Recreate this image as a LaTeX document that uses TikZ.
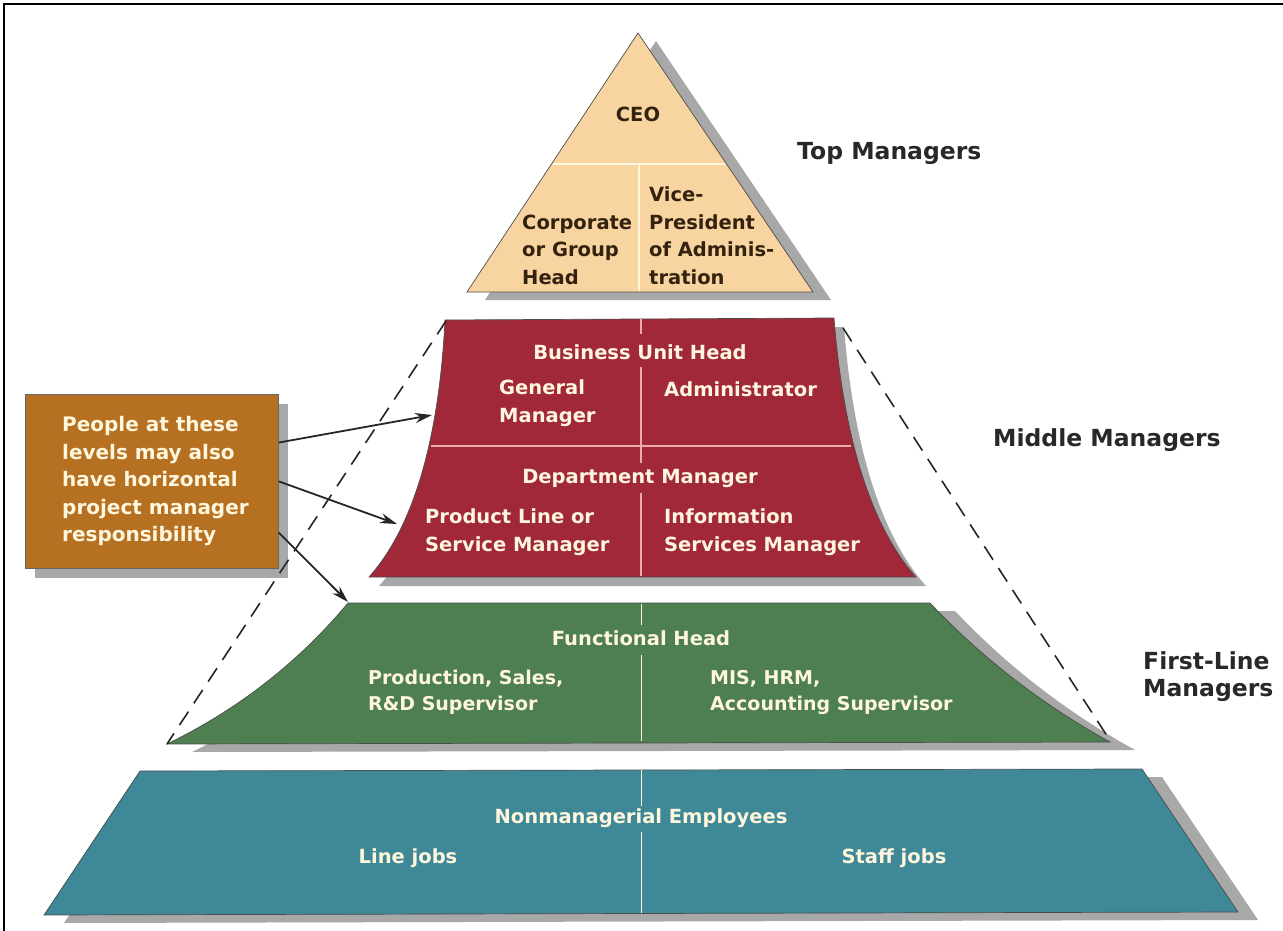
\documentclass[tikz,border=0pt]{standalone}
\usepackage{fontspec}
\setmainfont{DejaVu Sans}
\usepackage{tikz}
\usetikzlibrary{arrows.meta}

\definecolor{peach}{RGB}{248,213,160}
\definecolor{wine}{RGB}{160,40,56}
\definecolor{leaf}{RGB}{78,127,80}
\definecolor{sea}{RGB}{62,136,152}
\definecolor{ochre}{RGB}{181,112,33}
\definecolor{shadowgray}{RGB}{168,168,168}
\definecolor{cream}{RGB}{255,246,222}
\definecolor{pinkline}{RGB}{236,170,170}
\definecolor{inkbrown}{RGB}{50,34,14}
\definecolor{inkgray}{RGB}{40,40,40}

\newcommand{\toppath}{(638,33) -- (813,292) -- (467,292) -- cycle}
\newcommand{\redpath}{(445,320) -- (834,318) .. controls (842,420) and (865,520) .. (916,577) -- (369,577) .. controls (420,520) and (440,420) .. (445,320) -- cycle}
\newcommand{\greenpath}{(348,603) -- (930,603) .. controls (983,659) and (1043,705) .. (1110,742) -- (167,744) .. controls (237,710) and (298,663) .. (348,603) -- cycle}
\newcommand{\bluepath}{(140,771) -- (1142,769) -- (1238,912) -- (44,915) -- cycle}

\begin{document}
\begin{tikzpicture}[x=1pt,y=-1pt,
	shadowfill/.style={fill=shadowgray},
	edge/.style={draw=black!70, line width=0.7pt},
	divider/.style={line width=1.5pt},
	lvltxt/.style={text=cream, font=\bfseries\fontsize{19.5}{28}\selectfont, align=left, inner sep=0pt},
	toptxt/.style={text=inkbrown, font=\bfseries\fontsize{19.5}{27.5}\selectfont, align=left, inner sep=0pt},
	ranklbl/.style={text=inkgray, font=\bfseries\fontsize{23.5}{27}\selectfont, align=left, inner sep=0pt, anchor=west},
	guide/.style={dashed, dash pattern=on 16pt off 10pt, line width=1.6pt, black!85},
	pointer/.style={-{Stealth[length=17pt,width=10pt]}, line width=1.8pt, black!85}]

\useasboundingbox (0,0) rectangle (1283,931);

\draw[line width=2.5pt] (4,931) -- (4,4) -- (1283,4);

% shadows
\begin{scope}[shift={(18,8)}]
	\fill[shadowfill] \toppath;
\end{scope}
\begin{scope}[shift={(10,9)}]
	\fill[shadowfill] \redpath;
\end{scope}
\begin{scope}[shift={(25,8)}]
	\fill[shadowfill] \greenpath;
\end{scope}
\begin{scope}[shift={(20,8)}]
	\fill[shadowfill] \bluepath;
\end{scope}
\fill[shadowfill] (35,404) rectangle (288,578);

% levels
\filldraw[fill=peach, edge] \toppath;
\filldraw[fill=wine, edge] \redpath;
\filldraw[fill=leaf, edge] \greenpath;
\filldraw[fill=sea, edge] \bluepath;

\draw[divider, cream] (553,164) -- (725,164);
\draw[divider, cream] (639,164) -- (639,291);

\foreach \a/\b in {319/334, 367/463, 493/576}{
	\draw[divider, pinkline] (641,\a) -- (641,\b);
}
\draw[divider, pinkline] (431,446) -- (851,446);

\foreach \a/\b in {604/625, 655/741}{
	\draw[line width=1pt, cream] (641,\a) -- (641,\b);
}
\foreach \a/\b in {770/806, 832/913}{
	\draw[line width=1pt, cream] (641,\a) -- (641,\b);
}

% texts
\node[toptxt] (ceo) at (638,114) {CEO};
\node[toptxt, anchor=west] (corp) at (522,249.5) {Corporate\\or Group\\Head};
\node[toptxt, anchor=west] (vp) at (649,235.5) {Vice-\\President\\of Adminis-\\tration};

\node[lvltxt] (buh) at (640,352) {Business Unit Head};
\node[lvltxt, anchor=west] (gm) at (499,403) {General\\Manager};
\node[lvltxt, anchor=west] (adm) at (664,389) {Administrator};
\node[lvltxt] (dm) at (640,478) {Department Manager};
\node[lvltxt, anchor=west] (plm) at (425,532.5) {Product Line or\\Service Manager};
\node[lvltxt, anchor=west] (ism) at (664,532.5) {Information\\Services Manager};

\node[lvltxt, font=\bfseries\fontsize{19.5}{26}\selectfont] (fh) at (641,638) {Functional Head};
\node[lvltxt, font=\bfseries\fontsize{19}{26}\selectfont, anchor=west] (prod) at (368,692) {Production, Sales,\\R\&D Supervisor};
\node[lvltxt, font=\bfseries\fontsize{19}{26}\selectfont, anchor=west] (mis) at (710,692) {MIS, HRM,\\Accounting Supervisor};

\node[lvltxt] (nme) at (641,818) {Nonmanagerial Employees};
\node[lvltxt] (line) at (408,858) {Line jobs};
\node[lvltxt] (staff) at (894,858) {Staff jobs};

\node[ranklbl] (topm) at (797,153) {Top Managers};
\node[ranklbl] (midm) at (993,440) {Middle Managers};
\node[ranklbl] (firstm) at (1143,676.5) {First-Line\\Managers};

% note box
\node[fill=ochre, draw=black!60, line width=0.7pt, minimum width=253pt, minimum height=174pt, inner sep=0pt, anchor=north west] (note) at (25,394) {};
\node[lvltxt, font=\bfseries\fontsize{20}{27.5}\selectfont, anchor=west] (notetxt) at ([xshift=37pt]note.west) {People at these\\levels may also\\have horizontal\\project manager\\responsibility};

% dashed guides
\coordinate (rTL) at (446,321);
\coordinate (gBL) at (167,744);
\coordinate (rTR) at (843,328);
\coordinate (gBR) at (1111,742);
\draw[guide] (rTL) -- (gBL);
\draw[guide] (rTR) -- (gBR);

% arrows
\coordinate (a1) at (432,415);
\coordinate (a2) at (397,524);
\coordinate (a3) at (348,602);
\draw[pointer] (note.17) -- (a1);
\draw[pointer] (note.east) -- (a2);
\draw[pointer] (note.-22) -- (a3);

\end{tikzpicture}
\end{document}
